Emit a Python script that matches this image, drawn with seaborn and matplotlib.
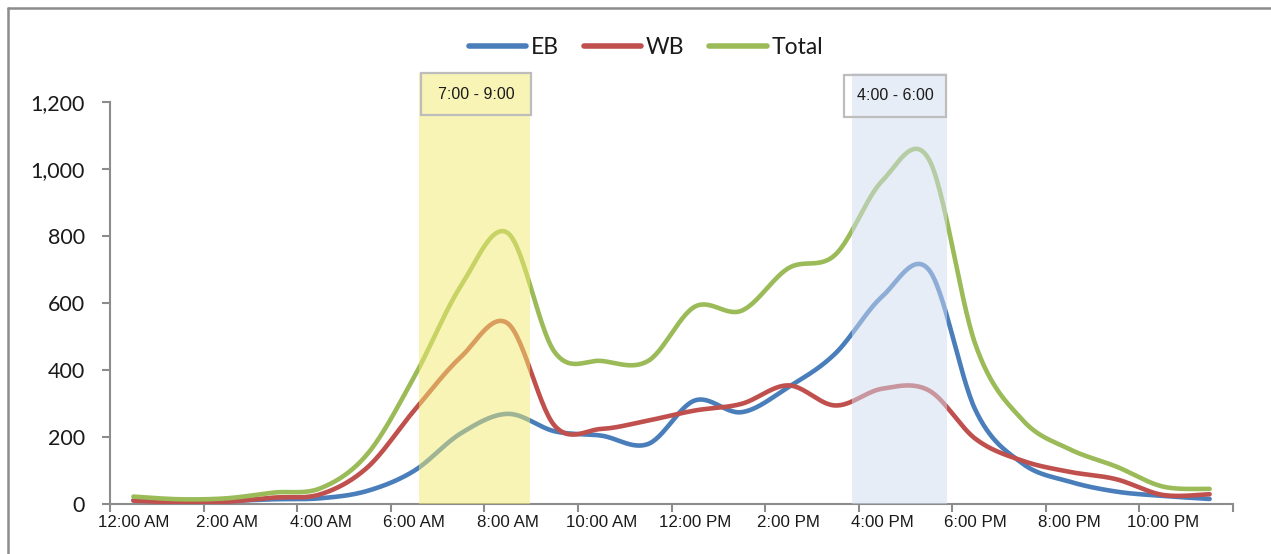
import numpy as np
import pandas as pd
import matplotlib
matplotlib.use("Agg")
import matplotlib.pyplot as plt
from matplotlib.patches import Rectangle
from matplotlib.lines import Line2D
from matplotlib import font_manager
import seaborn as sns

# ---- data (hourly volumes) ----
hours = ["12:00 AM", "1:00 AM", "2:00 AM", "3:00 AM", "4:00 AM", "5:00 AM",
         "6:00 AM", "7:00 AM", "8:00 AM", "9:00 AM", "10:00 AM", "11:00 AM",
         "12:00 PM", "1:00 PM", "2:00 PM", "3:00 PM", "4:00 PM", "5:00 PM",
         "6:00 PM", "7:00 PM", "8:00 PM", "9:00 PM", "10:00 PM", "11:00 PM"]
eb = [12, 9, 10, 15, 18, 40, 100, 212, 270, 218, 205, 180,
      310, 275, 350, 450, 620, 700, 280, 122, 68, 38, 25, 16]
wb = [11, 6, 8, 20, 30, 110, 280, 440, 540, 235, 225, 250,
      280, 300, 355, 295, 345, 340, 195, 130, 97, 75, 28, 30]
total = [23, 15, 18, 35, 48, 150, 380, 652, 810, 455, 428, 428,
         590, 578, 705, 745, 965, 1030, 475, 252, 165, 113, 53, 46]
series_names = ["EB", "WB", "Total"]
colors = ["#4A7EBB", "#C0504D", "#9BBB59"]
peak_labels = ["7:00 - 9:00", "4:00 - 6:00"]


def smooth(x, y, n=30):
    """Excel-style smoothed line (cubic Bezier / Catmull-Rom)."""
    x = np.asarray(x, float)
    y = np.asarray(y, float)
    xs, ys = [], []
    m = len(x)
    t = np.linspace(0, 1, n, endpoint=False)
    for i in range(m - 1):
        x0, y0 = (x[i - 1], y[i - 1]) if i > 0 else (x[i], y[i])
        x1, y1 = x[i], y[i]
        x2, y2 = x[i + 1], y[i + 1]
        x3, y3 = (x[i + 2], y[i + 2]) if i + 2 < m else (x[i + 1], y[i + 1])
        cx1, cy1 = x1 + (x2 - x0) / 6, y1 + (y2 - y0) / 6
        cx2, cy2 = x2 - (x3 - x1) / 6, y2 - (y3 - y1) / 6
        b0 = (1 - t) ** 3
        b1 = 3 * (1 - t) ** 2 * t
        b2 = 3 * (1 - t) * t ** 2
        b3 = t ** 3
        xs.append(b0 * x1 + b1 * cx1 + b2 * cx2 + b3 * x2)
        ys.append(b0 * y1 + b1 * cy1 + b2 * cy2 + b3 * y2)
    xs.append([x[-1]])
    ys.append([y[-1]])
    return np.concatenate(xs), np.concatenate(ys)


def has_font(name):
    try:
        font_manager.findfont(font_manager.FontProperties(family=name),
                              fallback_to_default=False)
        return True
    except Exception:
        return False


if has_font("Liberation Sans Narrow"):
    narrow = ["Liberation Sans Narrow", "DejaVu Sans"]
    xt_size, box_size = 13.5, 13
else:
    narrow = ["Liberation Sans", "DejaVu Sans"]
    xt_size, box_size = 12.2, 11.5

pos = np.arange(len(hours))
frames = []
for name, vals in zip(series_names, [eb, wb, total]):
    sx, sy = smooth(pos, vals)
    frames.append(pd.DataFrame({"x": sx, "y": sy, "series": name}))
df = pd.concat(frames, ignore_index=True)

sns.set_theme(style="white")
plt.rcParams["font.family"] = ["Lato", "DejaVu Sans"]

fig = plt.figure(figsize=(12.71, 5.54), dpi=100)
ax = fig.add_axes([110 / 1271, 1 - 504.3 / 554, (1233 - 110) / 1271, (504.3 - 102.3) / 554])

sns.lineplot(data=df, x="x", y="y", hue="series", hue_order=series_names,
             palette=colors, sort=False, estimator=None, units="series",
             linewidth=3.3, ax=ax, legend=False, zorder=3)

ax.set_xlim(-0.5, 23.5)
ax.set_ylim(0, 1200)
ax.set_xlabel("")
ax.set_ylabel("")

# axes styling
for s in ["top", "right"]:
    ax.spines[s].set_visible(False)
for s in ["left", "bottom"]:
    ax.spines[s].set_color("#8C8C8C")
    ax.spines[s].set_linewidth(1.5)

ax.set_yticks(np.arange(0, 1201, 200))
ax.set_yticklabels([f"{v:,}" for v in range(0, 1201, 200)], fontsize=15.5, color="#1A1A1A")
ax.tick_params(axis="y", direction="out", length=6, width=1.5, color="#8C8C8C", pad=12, left=True)

ax.set_xticks(np.arange(-0.5, 24, 2))
ax.set_xticklabels([])
ax.set_xticks(pos[::2], minor=True)
ax.set_xticklabels(hours[::2], minor=True, fontsize=xt_size, color="#1A1A1A", family=narrow)
ax.tick_params(axis="x", which="major", direction="out", length=6, width=1.5,
               color="#8C8C8C", bottom=True)
ax.tick_params(axis="x", which="minor", length=0, pad=8, bottom=True)

# peak period bands (drawn over the lines, semi-transparent)
bands = [(6.11, 8.47, "#F3EB6F"), (15.35, 17.39, "#D1DDF1")]
for x0, x1, c in bands:
    ax.add_patch(Rectangle((x0, 0), x1 - x0, 1287, facecolor=c, edgecolor="none",
                           alpha=0.5, zorder=5, clip_on=False))

# label boxes
boxes = [(6.15, 8.50, 1162, 1287), (15.19, 17.37, 1157, 1282)]
for (x0, x1, y0, y1), lab in zip(boxes, peak_labels):
    ax.add_patch(Rectangle((x0, y0), x1 - x0, y1 - y0, facecolor="none",
                           edgecolor="#BDBDBD", linewidth=1.6, zorder=6, clip_on=False))
    ax.text((x0 + x1) / 2, (y0 + y1) / 2, lab, ha="center", va="center",
            fontsize=box_size, color="#1A1A1A", zorder=7, clip_on=False, family=narrow)

# legend
handles = [Line2D([0], [0], color=c, linewidth=4, solid_capstyle="round") for c in colors]
fig.legend(handles, series_names, loc="center", bbox_to_anchor=(0.508, 0.915),
           ncol=3, frameon=False, fontsize=16.5, handlelength=2.5, handletextpad=0.2,
           columnspacing=1.1, labelcolor="#1A1A1A")

# outer chart frame (top and left edges visible)
fig.add_artist(Line2D([7.5 / 1271, 7.5 / 1271], [0, 1 - 7.5 / 554], transform=fig.transFigure,
                      color="#8C8C8C", linewidth=1.8))
fig.add_artist(Line2D([7.5 / 1271, 1], [1 - 7.5 / 554, 1 - 7.5 / 554], transform=fig.transFigure,
                      color="#8C8C8C", linewidth=1.8))

fig.savefig("out.png", dpi=100)
